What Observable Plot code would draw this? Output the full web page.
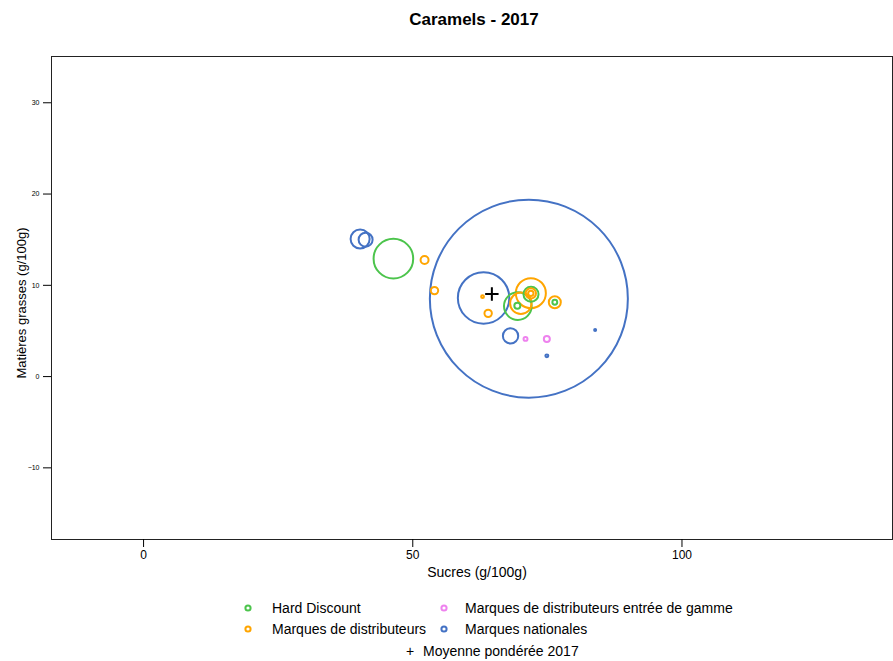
<!DOCTYPE html>
<html><head><meta charset="utf-8">
<script src="https://cdn.jsdelivr.net/npm/d3@7"></script>
<script src="https://cdn.jsdelivr.net/npm/@observablehq/plot@0.6"></script>
<style>
body{margin:0;background:#fff;font-family:"Liberation Sans",Arial,sans-serif;color:#000;}
#wrap{position:relative;width:893px;height:661px;overflow:hidden;background:#fff;}
#title{position:absolute;left:0;top:0;width:948px;text-align:center;font-weight:bold;font-size:17px;line-height:40px;height:40px;}
#chart{position:absolute;left:0;top:40px;}
.lg{position:absolute;font-size:14px;line-height:20px;height:20px;white-space:nowrap;}
.mk{position:absolute;width:10px;height:10px;}
</style></head><body>
<div id="wrap">
<div id="title">Caramels - 2017</div>
<div id="chart"></div>
<div id="legend"></div>
</div>
<script>
// Categories and colours
const categories = ["Hard Discount", "Marques de distributeurs", "Marques de distributeurs entrée de gamme", "Marques nationales"];
const colors = ["#4cc44c", "#ffa500", "#ee82ee", "#4472c4"];

// Points (one entry per product / segment)
const cat = [3,3,3,3,3,3,3, 0,0,0,0,0, 1,1,1,1,1,1,1,1,1, 2,2];
const sucres = [71.56,63.15,40.22,41.24,68.16,74.9,83.87, 46.4,69.51,69.42,71.96,76.38, 52.19,54.03,62.96,64.0,71.93,70.07,71.93,71.93,76.38, 70.94,74.9];
const matieres = [8.54,8.62,15.08,15.0,4.46,2.27,5.11, 12.92,7.72,7.77,9.03,8.14, 12.78,9.42,8.76,6.93,9.14,8.03,9.12,9.12,8.14, 4.13,4.13];
const part = [40.0,2.70,0.37,0.20,0.24,0.009,0.004, 1.60,0.78,0.037,0.23,0.024, 0.065,0.056,0.008,0.056,0.92,0.47,0.11,0.03,0.147, 0.016,0.037];

// Weighted mean
const moyenneSucres = [64.69];
const moyenneMatieres = [9.05];

// Axis ticks and labels
const xTicks = [0, 50, 100];
const yTicks = [-10, 0, 10, 20, 30];
const xLabel = "Sucres (g/100g)";
const yLabel = "Matières grasses (g/100g)";
const meanLabel = "Moyenne pondérée 2017";

const points = sucres.map((s, i) => ({sucres: s, mg: matieres[i], part: part[i], cat: categories[cat[i]]}));
const moyenne = moyenneSucres.map((s, i) => ({sucres: s, mg: moyenneMatieres[i]}));

const plusSymbol = {
  draw(context, size) {
    const r = Math.sqrt(size / Math.PI);
    context.moveTo(-r, 0); context.lineTo(r, 0);
    context.moveTo(0, -r); context.lineTo(0, r);
  }
};

const plot = Plot.plot({
  width: 893, height: 540,
  marginTop: 16, marginBottom: 41, marginLeft: 51, marginRight: 1,
  x: {domain: [-17.1, 139.1]},
  y: {domain: [-17.85, 35.07]},
  r: {type: "sqrt", domain: [0, 40], range: [0, 99]},
  color: {domain: categories, range: colors},
  style: {fontFamily: "'Liberation Sans', Arial, sans-serif", background: "white", color: "black"},
  marks: [
    Plot.frame({stroke: "#222"}),
    Plot.axisX({ticks: xTicks, tickSize: 8, tickPadding: 3, fontSize: 12, label: null}),
    Plot.axisY({ticks: yTicks, tickSize: 8, tickPadding: 4, fontSize: 7, label: null}),
    Plot.dot(points, {x: "sucres", y: "mg", r: "part", stroke: "cat", strokeWidth: 2, fill: "none"}),
    Plot.dot(moyenne, {x: "sucres", y: "mg", symbol: plusSymbol, r: 6.7, stroke: "black", strokeWidth: 2}),
    Plot.text([xLabel], {frameAnchor: "bottom", text: d => d, dy: 33, dx: 5, fontSize: 14, textAnchor: "middle", lineAnchor: "middle"}),
    Plot.text([yLabel], {frameAnchor: "left", text: d => d, rotate: -90, dx: -30, dy: 5, fontSize: 13, textAnchor: "middle", lineAnchor: "middle"})
  ]
});
document.getElementById("chart").appendChild(plot);

// Legend
const legend = document.getElementById("legend");
const legendItems = [
  {c: 0, mx: 248, tx: 272, y: 608},
  {c: 2, mx: 444, tx: 465, y: 608},
  {c: 1, mx: 248, tx: 272, y: 629},
  {c: 3, mx: 444, tx: 465, y: 629}
];
for (const it of legendItems) {
  const m = document.createElementNS("http://www.w3.org/2000/svg", "svg");
  m.setAttribute("class", "mk");
  m.setAttribute("width", 10); m.setAttribute("height", 10);
  m.style.left = (it.mx - 5) + "px"; m.style.top = (it.y - 5) + "px";
  m.innerHTML = `<circle cx="5" cy="5" r="2.6" fill="none" stroke="${colors[it.c]}" stroke-width="2"/>`;
  legend.appendChild(m);
  const t = document.createElement("div");
  t.className = "lg";
  t.style.left = it.tx + "px"; t.style.top = (it.y - 10) + "px";
  t.textContent = categories[it.c];
  legend.appendChild(t);
}
const plus = document.createElement("div");
plus.className = "lg"; plus.style.left = "406px"; plus.style.top = "641px";
plus.textContent = "+";
legend.appendChild(plus);
const ml = document.createElement("div");
ml.className = "lg"; ml.style.left = "423px"; ml.style.top = "641px";
ml.textContent = meanLabel;
legend.appendChild(ml);
</script>
</body></html>
